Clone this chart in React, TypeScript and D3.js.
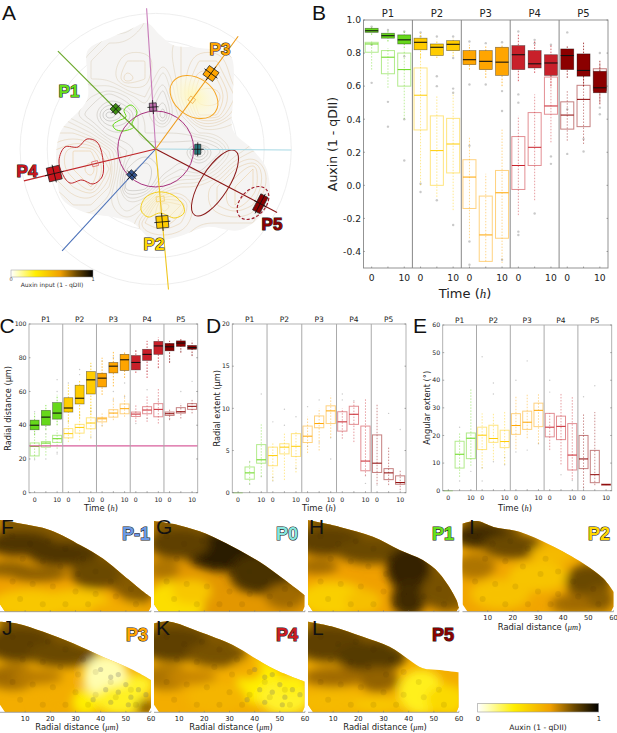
import * as d3 from "d3";

// ---- shared
const stages = ["P1", "P2", "P3", "P4", "P5"];
const stageColors = ["#66d81a", "#ffcc00", "#ffa500", "#c8202a", "#8b0000"];
const timeLabels = ["0", "", "10"];
const sans = "'DejaVu Sans', sans-serif";
const arial = "'Liberation Sans', Arial, sans-serif";

// each row: q1, median, q3, whisker low, whisker high, outliers
const auxinFilled = [
  [0.925, 0.935, 0.95, 0.91, 0.96, [0.96]],
  [0.89, 0.905, 0.92, 0.87, 0.935, [0.94]],
  [0.855, 0.88, 0.91, 0.83, 0.93, [0.93]],
  [0.82, 0.865, 0.89, 0.77, 0.92, [0.925, 0.9]],
  [0.785, 0.835, 0.855, 0.77, 0.88, [0.9]],
  [0.815, 0.853, 0.875, 0.78, 0.89, [0.9, 0.77]],
  [0.73, 0.76, 0.815, 0.7, 0.85, [0.87, 0.61]],
  [0.7, 0.75, 0.815, 0.65, 0.84, [0.86, 0.61]],
  [0.665, 0.745, 0.835, 0.6, 0.85, [0.865, 0.57, 0.45]],
  [0.7, 0.79, 0.845, 0.63, 0.92, [0.93]],
  [0.71, 0.735, 0.815, 0.68, 0.87, [0.88, 0.86]],
  [0.665, 0.74, 0.79, 0.6, 0.85, [0.85]],
  [0.7, 0.785, 0.825, 0.65, 0.84, [0.925]],
  [0.66, 0.695, 0.795, 0.6, 0.87, []],
  [0.56, 0.59, 0.69, 0.49, 0.76, [0.8, 0.47, 0.43]],
];
const auxinOpen = [
  [0.805, 0.855, 0.865, 0.7, 0.87, [0.62, 0.85]],
  [0.675, 0.775, 0.815, 0.59, 0.83, [0.505, 0.355]],
  [0.6, 0.7, 0.8, 0.4, 0.82, [0.4, 0.15, 0.78]],
  [0.335, 0.545, 0.71, 0.0, 0.8, [-0.04, 0.01]],
  [0.0, 0.21, 0.42, -0.07, 0.54, [0.66, 0.6, -0.09]],
  [0.075, 0.25, 0.405, -0.15, 0.56, [0.585, 0.56, -0.24]],
  [-0.14, 0.05, 0.155, -0.32, 0.29, [-0.34, -0.48, 0.24]],
  [-0.46, -0.3, -0.065, -0.46, 0.07, []],
  [-0.32, -0.045, 0.09, -0.47, 0.34, [-0.45]],
  [-0.025, 0.12, 0.295, -0.18, 0.42, [0.55, 0.5, -0.28, -0.3]],
  [0.12, 0.23, 0.44, -0.09, 0.55, [-0.17]],
  [0.43, 0.48, 0.655, 0.26, 0.73, [0.175, 0.13]],
  [0.34, 0.425, 0.505, 0.27, 0.57, [0.46, 0.19]],
  [0.355, 0.52, 0.605, 0.25, 0.7, [0.205, 0.28]],
  [0.575, 0.6, 0.705, 0.5, 0.74, []],
];

const radialFilled = [
  [37.3, 40, 43, 34, 47, [48]],
  [40, 44.8, 48.8, 37, 52, [35]],
  [43.6, 47.2, 53.4, 40, 58, [67, 60]],
  [47.8, 50.2, 56.3, 42, 64, [65]],
  [52.6, 56, 63.7, 44, 67, [73, 70]],
  [58.5, 66.9, 71.8, 46, 77, [75, 48]],
  [62.7, 67.9, 70.8, 58, 80, [78]],
  [71, 75, 77.2, 63, 84, [80, 60]],
  [72.4, 78.8, 82, 68, 84, [65]],
  [72.8, 77.2, 81.3, 71, 85, [84]],
  [78.4, 82, 85, 68, 90, [61, 72]],
  [82, 87, 89.7, 74, 92, [74]],
  [84.1, 86.5, 88.5, 77, 90, [78]],
  [86.7, 88.7, 90, 83, 91, [84]],
  [85, 86, 87.3, 81, 90, [82]],
];
const radialOpen = [
  [21.8, 27.4, 29.5, 20, 33, [19.5, 35]],
  [27, 29.4, 30.3, 22, 35, [20, 38]],
  [29.8, 32, 34, 26, 37, [24, 23]],
  [32.5, 35, 38, 30, 44, [42]],
  [35.3, 38.7, 40.5, 31, 48, [46]],
  [37.9, 41.3, 44.4, 32, 52, [33, 50]],
  [42, 43.8, 44.6, 39, 47, [40]],
  [44.8, 47.2, 49.2, 43, 57, [55]],
  [46.8, 49.8, 52.6, 45, 58, [57]],
  [45.2, 46.6, 47.8, 42, 52, [41]],
  [46.8, 49, 51, 42, 57, [44]],
  [45, 49.4, 52.8, 41, 62, [55]],
  [45.8, 46.8, 47.8, 43, 50, [44]],
  [47.2, 48, 50.4, 44, 53, [60]],
  [49.4, 51.2, 52.8, 47, 55, [66]],
];
const extentRows = [
  [0, 0, 0, 0, 0, []],
  [1.6, 2.35, 3.05, 1, 3.8, [1, 3.7]],
  [3.5, 3.9, 5.7, 1.9, 8.1, [11.7, 1.9]],
  [3.2, 4.4, 5.4, 1.4, 6, [8.4, 1.8, 1.4]],
  [4.6, 5.4, 5.8, 1.5, 7, [9.9, 8.0]],
  [4.3, 5.5, 7, 2.4, 7.4, [9, 2.9]],
  [5.95, 6.7, 7.9, 4.7, 9, [10.2, 5.5]],
  [7.7, 8.2, 9.1, 5, 10, [11, 6]],
  [8.2, 9.7, 10.3, 6.5, 11.5, [4, 6.5]],
  [7.3, 8.4, 9.6, 6.4, 10, [11.7, 11]],
  [8.1, 9.3, 10.25, 6, 10.9, [10.9]],
  [2.6, 3.75, 7.9, 2, 11.2, [1.1, 2]],
  [2.4, 3.5, 6.85, 1, 10.5, [0.9]],
  [1.55, 2.35, 2.85, 0.9, 5.5, [9.4]],
  [1, 1.2, 2, 0.3, 2.6, [7.5]],
];
const angularRows = [
  [0, 0, 0, 0, 0, []],
  [8.2, 13.2, 17.9, 5, 21, [23, 3.5]],
  [11.6, 19, 20.9, 9, 37, [7]],
  [14.9, 20.1, 23, 8, 28, [48.5, 3.5, 8.3]],
  [17.5, 18.9, 23.7, 11, 28, [39, 35, 10.5]],
  [15.6, 17.8, 21.9, 9.5, 29, [9.4, 12]],
  [20.4, 23.6, 27.9, 15, 34.5, [40, 14]],
  [22.2, 24.8, 28.8, 19, 35, [47, 14.7]],
  [23.2, 29.1, 31.7, 17, 35, [17]],
  [19.5, 23, 28, 14.7, 28, [40, 35.7]],
  [18.5, 23.3, 27, 9.5, 35.5, [5.8]],
  [7.5, 12.9, 24.3, 4, 34, [3.7]],
  [8, 11.5, 20, 1, 28, [34, 1]],
  [2.9, 5.8, 14.6, 2, 28.5, [38]],
  [2, 2.2, 2.4, 2, 2.4, []],
];

// ---- colour ramp of qDII panels
const rampStops = [0, 0.08, 0.3, 0.6, 0.8, 1];
const rampColors = ["#ffffff", "#ffffc0", "#ffee00", "#f0a000", "#6a4800", "#000000"];
const auxinColor = d3.scaleLinear<string>().domain(rampStops).range(rampColors);

// ---- panel A, polar data in micrometres
const rayAngles = [135, 93.7, 53.8, -0.4, -27.6, -84.8, -132.6, -166.4];
const rayLengths = [102, 104, 103, 100, 101, 104, 102, 100];
const rayColors = ["#6aa82a", "#c77ab8", "#ee9b1a", "#a6d8e4", "#8b1616", "#f0c61e", "#4a70b8", "#c0262a"];
const polarCircles = [20, 40, 60, 80, 100];
const boundaryRadius = 28;
// angle, radius, radial size, tangential size (px), colour, open
const glyphs: [number, number, number, number, string, boolean][] = [
  [135, 41.7, 8, 8, "#3f8f12", false],
  [93.7, 31, 8, 7, "#c070b0", false],
  [-132.6, 26, 7, 8, "#34558f", false],
  [-0.4, 31, 6, 10, "#2a7a80", false],
  [-84.8, 54, 12, 12, "#ffcc00", false],
  [-84.8, 37, 5, 8, "#f5d060", true],
  [53.8, 69, 11, 12, "#ffa500", false],
  [53.8, 45, 5, 6, "#f0b050", true],
  [-166.4, 77, 13, 14, "#c8141c", false],
  [-166.4, 46, 6, 5, "#dd6060", true],
  [-27.6, 87, 8, 18, "#8b0000", false],
];
const tissuePts = [[88, 50], [110, 38], [133, 28], [147, 23], [160, 35], [173, 45], [200, 48], [230, 55], [233, 97], [233, 130], [253, 150], [267, 170], [267, 207], [240, 230], [207, 227], [177, 237], [153, 240], [133, 223], [113, 217], [87, 213], [63, 200], [57, 177], [60, 133], [87, 100], [87, 73]];
// coarse auxin level field, x 55..271 y 25..241 every 18 px
const fieldX0 = 55, fieldY0 = 25, fieldStep = 18, fieldSize = 13;
const fieldLevels = [
  4, 4, 4, 4, 4, 5, 5, 5, 5, 5, 5, 4, 4,
  4, 4, 4, 5, 5, 5, 5, 6, 6, 6, 5, 4, 4,
  4, 4, 5, 5, 6, 6, 5, 6, 7, 7, 6, 5, 4,
  4, 4, 5, 5, 7, 6, 4, 6, 8, 8, 6, 5, 4,
  4, 4, 4, 3, 4, 5, 3, 6, 9, 9, 7, 5, 4,
  5, 4, 3, 1, 2, 4, 2, 5, 8, 8, 6, 5, 4,
  6, 6, 5, 3, 3, 4, 4, 4, 5, 5, 5, 5, 5,
  7, 8, 8, 6, 4, 3, 3, 3, 1, 3, 5, 6, 6,
  7, 8, 9, 7, 3, 2, 3, 4, 3, 5, 7, 8, 6,
  6, 7, 8, 6, 2, 2, 5, 6, 6, 7, 8, 8, 6,
  5, 6, 6, 5, 4, 5, 9, 8, 6, 7, 8, 7, 5,
  4, 5, 5, 5, 5, 7, 8, 7, 6, 6, 6, 6, 5,
  4, 4, 5, 5, 5, 6, 6, 6, 5, 5, 5, 5, 4,
];
const peanutP4 = [[59, 160], [65, 147], [78, 147], [87, 139], [97, 142], [103, 160], [102, 177], [93, 184], [82, 180], [70, 183], [62, 173]];
const bellP2 = [[141, 210], [145, 198], [158, 192], [173, 195], [183, 205], [184, 213], [175, 218], [160, 213], [148, 217]];
const crescentP1 = [[113, 125], [118, 121], [126, 117], [124, 110], [131, 105], [137, 112], [132, 124], [134, 127], [123, 131], [115, 129]];

// ---- heatmap panels: outline [um, height], blobs [um, height, rx, ry, level]
const heatOutlines = {
  F: [[0, 36.4], [8, 35], [20, 32.4], [32, 26.4], [41, 21], [49, 14.5], [57, 7.9], [60, 5.7]],
  G: [[0, 36], [10.2, 34.3], [20.7, 31], [31.3, 25.8], [41.9, 19.8], [51.2, 13.2], [59.8, 6.6]],
  H: [[0, 36.4], [12.6, 33.7], [25.8, 29.8], [36.4, 24.5], [45.6, 20.5], [52.2, 15.2], [59, 4.6], [60, 0.6]],
  I: [[0, 35], [5.7, 36], [12.3, 33.7], [22.9, 31.7], [34.8, 26.5], [48, 19.2], [56, 13.2], [60, 7.9]],
  J: [[0, 36], [6.6, 35.3], [17.2, 32], [29, 27.4], [41, 22], [52.9, 16.8], [60, 12.8]],
  K: [[0, 35.3], [6.2, 36], [18, 32], [31.3, 26.7], [39.3, 22], [48.5, 16.8], [59.8, 12.2]],
  L: [[0, 36], [9.9, 34], [21.8, 30], [32.4, 26], [40.3, 20.8], [45.6, 17.5], [52.2, 16.8], [59.8, 15.9]],
};
// how far along the outline the brown rim runs, um
const heatRimEnd = { F: 60, G: 60, H: 60, I: 32, J: 32, K: 32, L: 38 };
const heatBlobs = {
  F: [[8, 27, 14, 5, 0.85], [25, 23, 14, 5, 0.85], [38, 15, 10, 6, 0.8], [3, 17, 10, 3, 0.75], [15, 15, 12, 3, 0.75], [12, 3, 16, 6, 0.45], [30, 4, 14, 5, 0.45], [48, 1, 12, 3, 0.55]],
  G: [[28, 24, 16, 8, 0.92], [42, 15, 12, 8, 0.86], [10, 27, 12, 6, 0.82], [8, 3, 12, 9, 0.36], [15, 8, 8, 5, 0.45], [35, 1, 14, 3, 0.62], [52, 6, 8, 5, 0.72], [4, 17, 6, 4, 0.7]],
  H: [[8, 28, 14, 6, 0.82], [25, 24, 14, 5, 0.8], [40, 17, 9, 9, 0.9], [40, 5, 7, 7, 0.88], [52, 8, 7, 7, 0.78], [10, 5, 14, 7, 0.42], [22, 4, 7, 5, 0.48], [4, 18, 8, 3, 0.72]],
  I: [[8, 30, 12, 5, 0.88], [20, 26, 12, 5, 0.8], [36, 23, 9, 4, 0.5], [30, 14, 12, 6, 0.46], [15, 7, 12, 6, 0.47], [50, 12, 9, 7, 0.8], [45, 3, 10, 4, 0.72], [55, 5, 5, 5, 0.76], [5, 18, 8, 5, 0.7]],
  J: [[8, 27, 14, 7, 0.82], [25, 23, 14, 5, 0.8], [5, 14, 10, 5, 0.72], [15, 14, 10, 3, 0.68], [42, 14, 9, 9, 0.1], [48, 5, 10, 6, 0.26], [58, 2, 4, 3, 0.75], [25, 6, 12, 6, 0.55], [34, 4, 5, 5, 0.3], [55, 11, 6, 4, 0.25]],
  K: [[8, 27, 14, 7, 0.82], [25, 23, 12, 5, 0.78], [5, 14, 10, 5, 0.7], [15, 14, 10, 3, 0.66], [42, 12, 9, 9, 0.3], [52, 6, 10, 7, 0.25], [25, 6, 12, 6, 0.52], [37, 17, 6, 4, 0.55], [55, 11, 6, 4, 0.28]],
  L: [[8, 27, 14, 7, 0.82], [25, 22, 14, 6, 0.84], [28, 13, 8, 5, 0.74], [10, 14, 12, 4, 0.72], [45, 8, 9, 9, 0.27], [55, 5, 8, 6, 0.38], [10, 4, 14, 5, 0.5], [28, 3, 10, 3, 0.45]],
};
const cellSpots = [[5, 30], [12, 27], [19, 28], [26, 25], [33, 21], [38, 16], [44, 12], [9, 21], [17, 20], [24, 18], [31, 15], [5, 12], [13, 11], [21, 10], [30, 8], [38, 7], [46, 6], [8, 5], [17, 3], [26, 3], [35, 3], [52, 9], [54, 3]];
const brightSpots = [[40, 17], [44, 14], [47, 15], [50, 11], [42, 9], [47, 8], [52, 6], [55, 9], [37, 5], [44, 4], [51, 3], [58, 7]];

// ---- helpers
function Frame({ left, right, top, bottom, stroke }: any) {
  return <rect x={left} y={top} width={right - left} height={bottom - top} fill="none" stroke={stroke} strokeWidth={0.9} />;
}

function Letter({ x, y, t }: any) {
  return <text x={x} y={y} fontFamily={arial} fontSize={21} fill="#111">{t}</text>;
}

function Badge({ x, y, t, fill, size = 16 }: any) {
  return <text x={x} y={y} textAnchor="middle" fontFamily={arial} fontWeight="bold" fontSize={size} fill={fill}
    stroke="#222" strokeWidth={1.1} paintOrder="stroke" style={{ paintOrder: "stroke" }}>{t}</text>;
}

function TimeLabel({ x, y, size }: any) {
  return <text x={x} y={y} textAnchor="middle" fontFamily={sans} fontSize={size} fill="#222">Time (<tspan fontFamily="'Liberation Serif', serif" fontStyle="italic">h</tspan>)</text>;
}

function BoxPanel({ box, domain, ticks, tickFormat, layers, tickSize, titleSize, labelSize, ylabel, ylabelX, stroke, fr, extra }: any) {
  const y = d3.scaleLinear().domain(domain).range([box.bottom, box.top]);
  const x = d3.scaleLinear().domain([0, 15]).range([box.left, box.right]);
  const bw = 0.8;
  const stageOf = (i: number) => Math.floor(i / 3);
  return (
    <g>
      {layers.map((layer: any, li: number) => (
        <g key={li}>
          {layer.rows.map((r: any, i: number) => {
            const c = stageColors[stageOf(i)];
            const cx = x(i + 0.5);
            const [q1, med, q3, lo, hi, out] = r;
            return (
              <g key={i}>
                {out.map((o: number, k: number) => (
                  <circle key={k} cx={cx} cy={y(o)} r={fr} fill="#888" fillOpacity={0.45} />
                ))}
                <line x1={cx} x2={cx} y1={y(lo)} y2={y(hi)} stroke={c} strokeOpacity={layer.filled ? 0.9 : 0.55} strokeWidth={0.8} strokeDasharray="1.5 1.5" />
                <rect x={x(i + 0.5 - bw / 2)} width={x(bw) - x(0)} y={y(q3)} height={Math.max(0, y(q1) - y(q3))}
                  fill={layer.filled ? c : "none"} stroke={layer.filled ? "#000" : c}
                  strokeOpacity={layer.filled ? 0.45 : 0.5} strokeWidth={layer.filled ? 0.7 : 1} />
                <line x1={x(i + 0.5 - bw / 2)} x2={x(i + 0.5 + bw / 2)} y1={y(med)} y2={y(med)}
                  stroke={layer.filled ? "#111" : c} strokeWidth={layer.filled ? 1.1 : 1} />
              </g>
            );
          })}
        </g>
      ))}
      {extra && extra(y)}
      <Frame {...box} stroke={stroke} />
      {stages.map((s, i) => (
        <g key={s}>
          {i > 0 && <line x1={x(i * 3)} x2={x(i * 3)} y1={box.top} y2={box.bottom} stroke={stroke} strokeWidth={1} />}
          <text x={x(i * 3 + 1.5)} y={box.top - titleSize * 0.32} textAnchor="middle" fontFamily={sans} fontSize={titleSize} fill="#222">{s}</text>
          {timeLabels.map((t, k) => (
            <g key={k}>
              <line x1={x(i * 3 + k + 0.5)} x2={x(i * 3 + k + 0.5)} y1={box.bottom} y2={box.bottom - 1.5} stroke="#555" strokeWidth={0.5} />
              <text x={x(i * 3 + k + 0.5)} y={box.bottom + tickSize * 1.45} textAnchor="middle" fontFamily={sans} fontSize={tickSize} fill="#222">{t}</text>
            </g>
          ))}
        </g>
      ))}
      {ticks.map((t: number) => (
        <g key={t}>
          <line x1={box.left} x2={box.left + 1.5} y1={y(t)} y2={y(t)} stroke="#555" strokeWidth={0.5} />
          <line x1={box.right} x2={box.right - 1.5} y1={y(t)} y2={y(t)} stroke="#555" strokeWidth={0.5} />
          <text x={box.left - 2.5} y={y(t) + tickSize * 0.36} textAnchor="end" fontFamily={sans} fontSize={tickSize} fill="#222">{tickFormat(t)}</text>
        </g>
      ))}
      <text transform={`translate(${ylabelX},${(box.top + box.bottom) / 2}) rotate(-90)`} textAnchor="middle" fontFamily={sans} fontSize={labelSize} fill="#222">{ylabel}</text>
    </g>
  );
}

function RadialLabel({ x, y }: any) {
  return <text x={x} y={y} textAnchor="middle" fontFamily={sans} fontSize={8.4} fill="#222">Radial distance (<tspan fontFamily="'Liberation Serif', serif" fontStyle="italic">μm</tspan>)</text>;
}

const umScale = d3.scaleLinear().domain([0, 60]).range([0, 151]);
const heatTicks = [10, 20, 30, 40, 50, 60];
const labelFill: Record<string, string> = {
  "P-1": "#6d9ae6", P0: "#86e6df", P1: "#66e01a", P2: "#ffd800", P3: "#ffa500", P4: "#cc1c22", P5: "#8b0000",
};

function Heat({ id, x0, base, fill, label, labelX, labelY, letter, letterX, letterY, showAxis, bright }: any) {
  const hx = (v: number) => x0 + umScale(v);
  const hy = (v: number) => base - umScale(v);
  const topLine = d3.line().x((d: any) => hx(d[0])).y((d: any) => hy(d[1])).curve(d3.curveCatmullRom);
  const outline = (heatOutlines as any)[id];
  const last = outline[outline.length - 1];
  const path = topLine(outline) + `L${hx(last[0])},${hy(2)}L${hx(59)},${hy(0)}L${hx(2)},${hy(0)}L${hx(0)},${hy(3)}Z`;
  const rim = outline.filter((p: number[]) => p[0] <= (heatRimEnd as any)[id]);
  return (
    <g>
      <clipPath id={`clip-${id}`}><path d={path} /></clipPath>
      <g filter="url(#softEdge)">
        <g clipPath={`url(#clip-${id})`}>
          <rect x={x0} y={base - 100} width={152} height={100} fill={auxinColor(fill)} />
          <g filter="url(#heatBlur)">
            <path d={topLine(rim) as string} fill="none" stroke={auxinColor(0.76)} strokeWidth={36} />
            {(heatBlobs as any)[id].map((b: number[], i: number) => (
              <ellipse key={i} cx={hx(b[0])} cy={hy(b[1])} rx={umScale(b[2])} ry={umScale(b[3])} fill={auxinColor(b[4])} />
            ))}
          </g>
          {cellSpots.map((c, i) => (
            <circle key={i} cx={hx(c[0])} cy={hy(c[1])} r={3} fill="#3a2500" fillOpacity={0.09} />
          ))}
          {bright && brightSpots.map((c, i) => (
            <circle key={i} cx={hx(c[0])} cy={hy(c[1])} r={2.6} fill="#666" fillOpacity={0.26} />
          ))}
        </g>
      </g>
      <line x1={x0} x2={x0 + 151} y1={base} y2={base} stroke="#999" strokeWidth={0.9} />
      {heatTicks.map(t => (
        <g key={t}>
          <line x1={hx(t)} x2={hx(t)} y1={base} y2={base - 1.5} stroke="#777" strokeWidth={0.5} />
          {showAxis && <text x={hx(t)} y={base + 8.5} textAnchor="middle" fontFamily={sans} fontSize={6.8} fill="#222">{t}</text>}
        </g>
      ))}
      {showAxis && <RadialLabel x={x0 + 77} y={base + 18} />}
      <Badge x={labelX} y={labelY} t={label} fill={labelFill[label]} size={18} />
      <Letter x={letterX} y={letterY} t={letter} />
    </g>
  );
}

function PanelA() {
  const cx = 155.7, cy = 149;
  const r = d3.scaleLinear().domain([0, 100]).range([0, 135.6]);
  const polar = (deg: number, um: number) => {
    const a = (deg * Math.PI) / 180;
    return [cx + r(um) * Math.cos(a), cy - r(um) * Math.sin(a)];
  };
  const contours = d3.contours().size([fieldSize, fieldSize]).smooth(true).thresholds(d3.range(1.5, 9, 0.5))(fieldLevels);
  const ringLine = d3.line()
    .x((d: any) => fieldX0 + (d[0] - 0.5) * fieldStep)
    .y((d: any) => fieldY0 + (d[1] - 0.5) * fieldStep)
    .curve(d3.curveBasisClosed);
  const contourColor = d3.scaleLinear<string>().domain([1.5, 4.5, 8.5]).range(["#6e6e6e", "#c4b89c", "#e8a84a"]);
  const closed = d3.line().curve(d3.curveCatmullRomClosed);
  const tissue = d3.line().curve(d3.curveCatmullRomClosed)(tissuePts as any) as string;

  return (
    <g>
      {polarCircles.map(c => <circle key={c} cx={cx} cy={cy} r={r(c)} fill="none" stroke="#ececec" strokeWidth={0.9} />)}
      <clipPath id="tissue"><path d={tissue} /></clipPath>
      <path d={tissue} fill="#f5f4f3" filter="url(#softEdge)" />
      <g clipPath="url(#tissue)">
        {contours.map((c: any) => c.coordinates.map((poly: any, i: number) => poly.map((ring: any, k: number) => (
          <path key={`${c.value}-${i}-${k}`} d={ringLine(ring.slice(0, -1)) as string} fill="none" stroke={contourColor(c.value)} strokeOpacity={0.6} strokeWidth={0.5} />
        ))))}
      </g>
      {/* expression domains */}
      <ellipse cx={194} cy={97} rx={26} ry={19} transform="rotate(35 194 97)" fill="url(#glowP3)" stroke="#f5a623" strokeWidth={1} />
      <ellipse cx={215} cy={183} rx={38} ry={14} transform="rotate(-57.7 215 183)" fill="none" stroke="#8b1a1a" strokeWidth={1} />
      <ellipse cx={253} cy={203} rx={19} ry={12.7} transform="rotate(-48 253 203)" fill="none" stroke="#a01c2c" strokeWidth={1.2} strokeDasharray="3 2" />
      <path d={closed(peanutP4 as any) as string} fill="none" stroke="#c0282c" strokeWidth={1} />
      <path d={closed(bellP2 as any) as string} fill="#fff6c0" fillOpacity={0.4} stroke="#f4cf1e" strokeWidth={1} />
      <path d={closed(crescentP1 as any) as string} fill="none" stroke="#66d81a" strokeWidth={1} />
      <circle cx={cx} cy={cy} r={r(boundaryRadius)} fill="none" stroke="#a8327f" strokeWidth={1} />
      {rayAngles.map((a, i) => {
        const [x, y] = polar(a, rayLengths[i]);
        return <line key={a} x1={cx} y1={cy} x2={x} y2={y} stroke={rayColors[i]} strokeWidth={1.1} />;
      })}
      {glyphs.map((g, i) => {
        const [deg, um, rs, ts, col, open] = g;
        const [x, y] = polar(deg, um);
        return (
          <g key={i} transform={`translate(${x},${y}) rotate(${-deg})`}>
            <rect x={-rs / 2} y={-ts / 2} width={rs} height={ts} fill={open ? "none" : col} stroke={open ? col : "#222"} strokeWidth={0.7} />
            {!open && <line x1={-rs / 2 - 3} x2={rs / 2 + 3} y1={0} y2={0} stroke="#111" strokeWidth={0.8} />}
            {!open && <line x1={0} x2={0} y1={-ts / 2 - 2} y2={ts / 2 + 2} stroke="#111" strokeWidth={0.8} />}
          </g>
        );
      })}
      <Badge x={69} y={97} t="P1" fill="#66e01a" size={17} />
      <Badge x={154} y={250} t="P2" fill="#ffd800" size={17} />
      <Badge x={220} y={55} t="P3" fill="#ffa500" size={17} />
      <Badge x={27} y={177} t="P4" fill="#c8141c" size={17} />
      <Badge x={272} y={230} t="P5" fill="#8b0000" size={17} />
      <rect x={11} y={270} width={82} height={7} fill="url(#rampGrad)" stroke="#999" strokeWidth={0.5} />
      <text x={11} y={281} textAnchor="middle" fontFamily={sans} fontSize={5} fill="#444">0</text>
      <text x={93} y={281} textAnchor="middle" fontFamily={sans} fontSize={5} fill="#444">1</text>
      <text x={52} y={287} textAnchor="middle" fontFamily={sans} fontSize={6} fill="#333">Auxin input (1 - qDII)</text>
    </g>
  );
}

export default function App() {
  const boxB = { left: 363.5, right: 608, top: 20, bottom: 268 };
  const boxC = { left: 29, right: 197.7, top: 324, bottom: 492.7 };
  const boxD = { left: 232.3, right: 406, top: 324, bottom: 492.7 };
  const boxE = { left: 442.7, right: 611.7, top: 325, bottom: 490.7 };
  return (
    <svg width={617} height={733} viewBox="0 0 617 733" style={{ position: "absolute", left: 0, top: 0, background: "#fff" }}>
      <defs>
        <linearGradient id="rampGrad">
          {rampStops.map((s, i) => <stop key={s} offset={s} stopColor={rampColors[i]} />)}
        </linearGradient>
        <radialGradient id="glowP3">
          <stop offset="0" stopColor="#fff7b8" />
          <stop offset="1" stopColor="#fffbe0" stopOpacity={0.4} />
        </radialGradient>
        <filter id="heatBlur" x="-30%" y="-30%" width="160%" height="160%"><feGaussianBlur stdDeviation={5} /></filter>
        <filter id="softEdge" x="-5%" y="-5%" width="110%" height="110%"><feGaussianBlur stdDeviation={0.7} /></filter>
      </defs>

      <Letter x={2} y={20} t="A" />
      <PanelA />

      <Letter x={312} y={20} t="B" />
      <BoxPanel box={boxB} domain={[-0.5, 1]} ticks={[-0.4, -0.2, 0, 0.2, 0.4, 0.6, 0.8, 1]} tickFormat={(t: number) => t.toFixed(1)}
        layers={[{ rows: auxinOpen, filled: false }, { rows: auxinFilled, filled: true }]}
        tickSize={9.2} titleSize={10} labelSize={12.5} ylabel="Auxin (1 - qDII)" ylabelX={337} stroke="#888" fr={1.2} />
      <TimeLabel x={465} y={298} size={13} />

      <Letter x={-0.5} y={333} t="C" />
      <BoxPanel box={boxC} domain={[0, 100]} ticks={[0, 20, 40, 60, 80, 100]} tickFormat={String}
        layers={[{ rows: radialOpen, filled: false }, { rows: radialFilled, filled: true }]}
        tickSize={6.2} titleSize={7.5} labelSize={8.2} ylabel="Radial distance (μm)" ylabelX={11} stroke="#aaa" fr={0.7}
        extra={(y: any) => <line x1={boxC.left} x2={boxC.right} y1={y(27.8)} y2={y(27.8)} stroke="#d85f9c" strokeWidth={1.2} />} />
      <TimeLabel x={101} y={511} size={8.4} />

      <Letter x={206} y={333} t="D" />
      <BoxPanel box={boxD} domain={[0, 20]} ticks={[0, 5, 10, 15, 20]} tickFormat={String}
        layers={[{ rows: extentRows, filled: false }]}
        tickSize={6.2} titleSize={7.5} labelSize={8.2} ylabel="Radial extent (μm)" ylabelX={220} stroke="#aaa" fr={0.7} />
      <TimeLabel x={319} y={511} size={8.4} />

      <Letter x={413} y={333} t="E" />
      <BoxPanel box={boxE} domain={[0, 60]} ticks={[0, 10, 20, 30, 40, 50, 60]} tickFormat={String}
        layers={[{ rows: angularRows, filled: false }]}
        tickSize={6.2} titleSize={7.5} labelSize={8.2} ylabel="Angular extent (°)" ylabelX={430} stroke="#aaa" fr={0.7} />
      <TimeLabel x={515} y={511} size={8.4} />

      <Heat id="F" x0={0} base={611.7} fill={0.6} label="P-1" labelX={136} labelY={540} letter="F" letterX={1} letterY={534} />
      <Heat id="G" x0={154} base={611.7} fill={0.62} label="P0" labelX={287} labelY={540} letter="G" letterX={156} letterY={534} />
      <Heat id="H" x0={308} base={611.7} fill={0.6} label="P1" labelX={443} labelY={540} letter="H" letterX={309} letterY={534} />
      <Heat id="I" x0={462.5} base={611.7} fill={0.58} label="P2" labelX={599} labelY={540} letter="I" letterX={469} letterY={534} showAxis />
      <Heat id="J" x0={0} base={712.3} fill={0.55} label="P3" labelX={137} labelY={641} letter="J" letterX={2} letterY={635} showAxis bright />
      <Heat id="K" x0={154} base={712.3} fill={0.55} label="P4" labelX={287} labelY={641} letter="K" letterX={156} letterY={635} showAxis bright />
      <Heat id="L" x0={308} base={712.3} fill={0.55} label="P5" labelX={443} labelY={641} letter="L" letterX={312} letterY={635} showAxis />

      <rect x={477.7} y={703.3} width={121} height={8.7} fill="url(#rampGrad)" stroke="#999" strokeWidth={0.6} />
      <text x={478} y={720.5} textAnchor="middle" fontFamily={sans} fontSize={6.8} fill="#222">0</text>
      <text x={599} y={720.5} textAnchor="middle" fontFamily={sans} fontSize={6.8} fill="#222">1</text>
      <text x={538} y={730} textAnchor="middle" fontFamily={sans} fontSize={7.6} fill="#222">Auxin (1 - qDII)</text>
    </svg>
  );
}
